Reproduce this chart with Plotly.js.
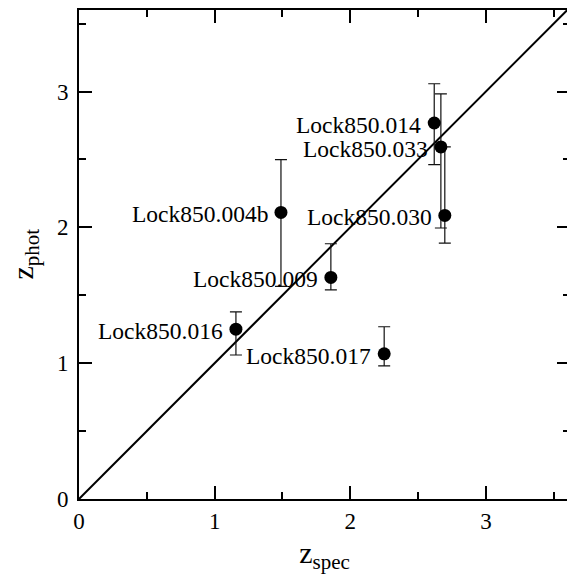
<!DOCTYPE html>
<html><head><meta charset="utf-8">
<script src="https://cdn.plot.ly/plotly-3.0.1.min.js"></script>
<style>html,body{margin:0;padding:0;overflow:hidden;background:#fff}</style>
</head><body><div id="chart" style="width:570px;height:574px"></div>
<script>
const names = ["Lock850.016", "Lock850.017", "Lock850.009", "Lock850.004b", "Lock850.014", "Lock850.033", "Lock850.030"];
const zSpec = [1.157, 2.25, 1.857, 1.489, 2.619, 2.668, 2.697];
const zPhot = [1.25, 1.069, 1.631, 2.11, 2.768, 2.592, 2.088];
const errPlus = [0.128, 0.199, 0.248, 0.388, 0.289, 0.39, 0.504];
const errMinus = [0.19, 0.089, 0.091, 0.545, 0.306, 0.597, 0.204];
const oneToOne = [0, 3.6];
const xTitle = "z<sub>spec</sub>";
const yTitle = "z<sub>phot</sub>";

const serif = "'Liberation Serif', serif";

const traces = [
  {x: oneToOne, y: oneToOne, mode: "lines", type: "scatter",
   line: {color: "black", width: 2}, hoverinfo: "skip", showlegend: false},
  {x: zSpec, y: zPhot, mode: "markers", type: "scatter", showlegend: false,
   marker: {color: "black", size: 13},
   error_y: {type: "data", symmetric: false, array: errPlus, arrayminus: errMinus,
             color: "#111", thickness: 1.2, width: 6}}
];

const annotations = names.map((n, i) => ({
  x: zSpec[i], y: zPhot[i], xref: "x", yref: "y", text: n, showarrow: false,
  xanchor: "right", yanchor: "middle", xshift: -11, yshift: -2,
  font: {family: serif, size: 23.5, color: "black"}
}));
annotations.push({
  x: 0, y: 0.5, xref: "paper", yref: "paper", text: yTitle, showarrow: false,
  textangle: -90, xanchor: "center", yanchor: "middle", xshift: -55,
  font: {family: serif, size: 30, color: "black"}
});

const axisBase = {
  showline: true, linewidth: 2, linecolor: "black", mirror: "ticks",
  ticks: "inside", ticklen: 13, tickwidth: 2, tickcolor: "black",
  tick0: 0, dtick: 1, showgrid: false, zeroline: false,
  minor: {dtick: 0.5, ticks: "inside", ticklen: 7, tickwidth: 2, tickcolor: "black", showgrid: false},
  tickfont: {family: serif, size: 23, color: "black"}
};

const layout = {
  width: 570, height: 574,
  margin: {l: 79, r: 0, t: 10, b: 75},
  paper_bgcolor: "white", plot_bgcolor: "white",
  font: {family: serif, color: "black"},
  xaxis: Object.assign({}, axisBase, {range: [0, 3.62],
    title: {text: xTitle, font: {family: serif, size: 30, color: "black"}, standoff: 10}}),
  yaxis: Object.assign({}, axisBase, {range: [0, 3.6], ticklabelstandoff: 4}),
  annotations: annotations
};

Plotly.newPlot("chart", traces, layout, {displayModeBar: false, staticPlot: true});
</script>
</body></html>
